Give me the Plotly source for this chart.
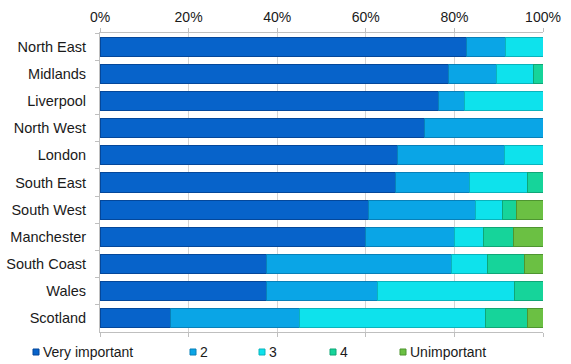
import plotly.graph_objects as go

regions = ["North East", "Midlands", "Liverpool", "North West", "London", "South East",
           "South West", "Manchester", "South Coast", "Wales", "Scotland"]
series_names = ["Very important", "2", "3", "4", "Unimportant"]
very_important = [82.8, 78.7, 76.4, 73.3, 67.2, 66.7, 60.5, 60.0, 37.5, 37.5, 16.0]
two = [8.7, 10.7, 5.8, 26.7, 24.1, 16.6, 24.3, 20.0, 41.8, 25.1, 29.0]
three = [8.5, 8.5, 17.8, 0.0, 8.7, 13.1, 6.1, 6.6, 8.2, 31.0, 42.1]
four = [0.0, 2.1, 0.0, 0.0, 0.0, 3.6, 3.1, 6.8, 8.3, 6.4, 9.5]
unimportant = [0.0, 0.0, 0.0, 0.0, 0.0, 0.0, 6.0, 6.6, 4.2, 0.0, 3.4]
tick_vals = [0, 20, 40, 60, 80, 100]
tick_text = ["0%", "20%", "40%", "60%", "80%", "100%"]

colors = ["#0763CA", "#0AA5E6", "#0EE2EC", "#16D49A", "#6BC043"]
edges = ["#04479A", "#0880B8", "#0AB3BC", "#0FA677", "#4E9530"]
all_series = [very_important, two, three, four, unimportant]

fig = go.Figure()
for name, vals, c, e in zip(series_names, all_series, colors, edges):
    fig.add_trace(go.Bar(
        y=regions, x=vals, name=name, orientation="h",
        marker=dict(color=c, line=dict(color=e, width=1)),
        showlegend=False,
    ))

# manual legend (layout decoration)
leg_x = [33, 190, 259, 330, 400]
W, H = 571, 364
ml, mr, mt, mb = 100, 28, 33, 32
pw, ph = W - ml - mr, H - mt - mb
shapes = []
annotations = []
for name, c, e, lx in zip(series_names, colors, edges, leg_x):
    x0 = (lx - ml) / pw
    x1 = (lx + 6 - ml) / pw
    y0 = (H - mb - 349) / ph
    y1 = (H - mb - 355) / ph
    shapes.append(dict(type="rect", xref="paper", yref="paper", x0=x0, x1=x1,
                       y0=y1, y1=y0, fillcolor=c, line=dict(color=e, width=1)))
    annotations.append(dict(xref="paper", yref="paper", x=(lx + 8 - ml) / pw,
                            y=(H - mb - 352) / ph, text=name, showarrow=False,
                            xanchor="left", yanchor="middle",
                            font=dict(size=14, color="#1a1a1a")))

fig.update_layout(
    width=W, height=H,
    margin=dict(l=ml, r=mr, t=mt, b=mb, autoexpand=False),
    barmode="stack", bargap=0.3,
    plot_bgcolor="white", paper_bgcolor="white",
    font=dict(family="Liberation Sans, Arial, sans-serif", size=14, color="#1a1a1a"),
    shapes=shapes, annotations=annotations,
    xaxis=dict(side="top", range=[0, 100], tickvals=tick_vals, ticktext=tick_text,
               showgrid=True, gridcolor="#D4D4D4", gridwidth=1, automargin=False,
               showline=True, linecolor="#BFBFBF", mirror="ticks",
               ticks="outside", ticklen=4, tickcolor="#BFBFBF", zeroline=False),
    yaxis=dict(autorange="reversed", showline=True, linecolor="#BFBFBF", automargin=False,
               ticks="outside", tickson="boundaries", ticklen=4, tickcolor="#BFBFBF",
               ticklabelstandoff=10, tickfont=dict(size=14.5)),
)

fig.write_html("out.html")
